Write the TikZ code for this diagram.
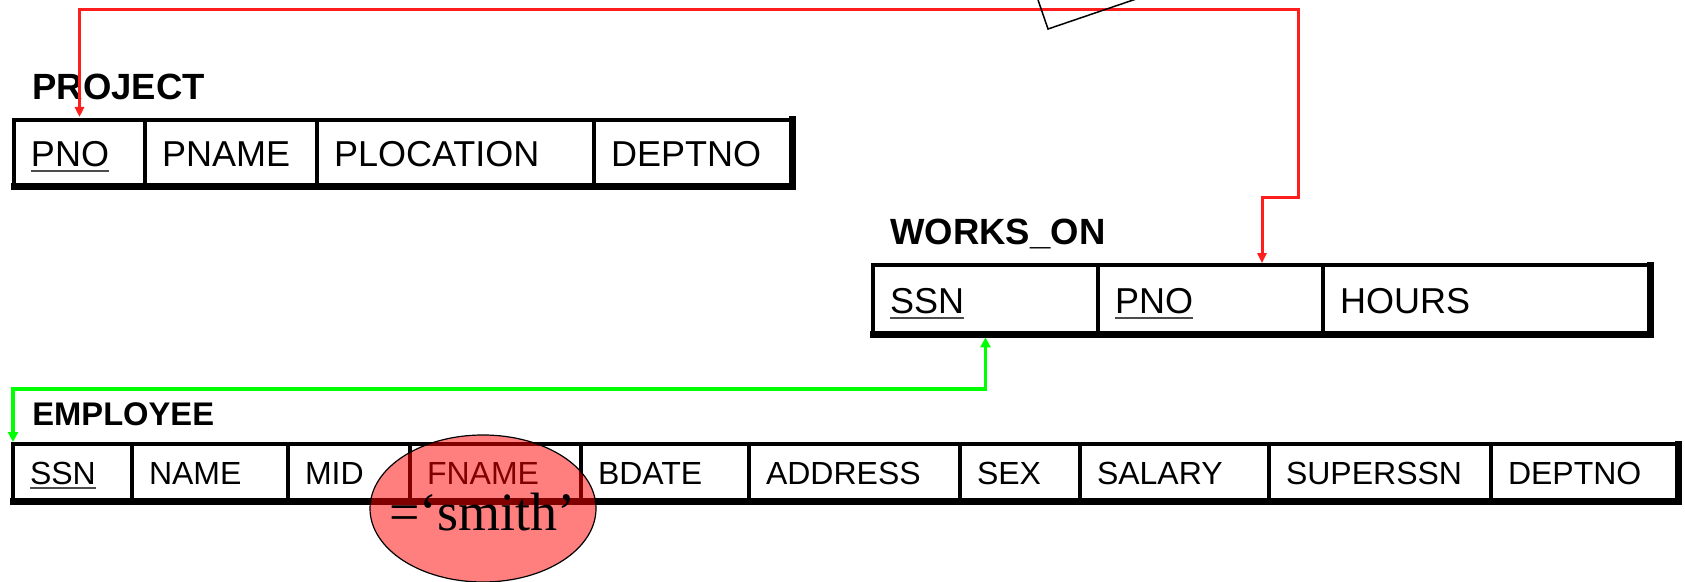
\documentclass[tikz,border=0pt]{standalone}
\usepackage{fontspec}
\setmainfont{Liberation Sans}
\newfontfamily\smithserif{Liberation Serif}
\usetikzlibrary{arrows.meta,shapes.geometric}

% primary-key attribute: text with a rule under it
\newcommand\keyattr[1]{\setbox0\hbox{#1}\rlap{\color{black!70}\rule[-2.7pt]{\wd0}{1pt}}\box0}

% one table cell: name, style, x left, x right, y top, y bottom, text
\newcommand\tcell[7]{%
  \node[#2, text width={(#4-#3)*0.5pt-17pt}, minimum height={(#6-#5)*0.5pt}]
    (#1) at ({(#3+#4)/2},{(#5+#6)/2}) {#7};}

\tikzset{
  cell/.style={draw, line width=1.6pt, outer sep=0pt, inner xsep=8.5pt, inner ysep=0pt,
    align=left, text depth=0pt},
  bigcell/.style={cell, font=\fontsize{18pt}{21pt}\selectfont, text height=12.9pt},
  smallcell/.style={cell, font=\fontsize{16pt}{19pt}\selectfont, text height=11.5pt},
  bigtitle/.style={inner sep=0pt, anchor=base west, font=\bfseries\fontsize{18.25pt}{22pt}\selectfont},
  smalltitle/.style={inner sep=0pt, anchor=base west, font=\bfseries\fontsize{16.35pt}{20pt}\selectfont},
  outerframe/.style={line width=2pt},
  outershade/.style={line width=3.5pt, line cap=rect},
  redlink/.style={draw={rgb,255:red,255;green,30;blue,30}, line width=1.5pt,
    {Triangle[length=5pt,width=4.5pt]}-{Triangle[length=5pt,width=4.5pt]}},
  greenlink/.style={draw={rgb,255:red,0;green,255;blue,0}, line width=1.75pt,
    {Triangle[length=5pt,width=5pt]}-{Triangle[length=5pt,width=5pt]}},
  selection/.style={ellipse, draw, line width=0.6pt, fill=red, fill opacity=0.5,
    draw opacity=1, inner sep=0pt, minimum width=113pt, minimum height=73.5pt},
}

\begin{document}
\begin{tikzpicture}[x=0.5pt, y=-0.5pt]
\useasboundingbox (0,0) rectangle (1685,582);

% ---------- PROJECT ----------
\node[bigtitle] (projtitle) at (32,100) {PROJECT};
\tcell{ppno}{bigcell}{14}{145}{120}{187}{\keyattr{PNO}}
\tcell{ppname}{bigcell}{145}{317}{120}{187}{PNAME}
\tcell{pploc}{bigcell}{317}{594}{120}{187}{PLOCATION}
\tcell{pdept}{bigcell}{594}{792}{120}{187}{DEPTNO}
\draw[outerframe] (ppno.north west) rectangle (pdept.south east);
\draw[outershade] (ppno.south west) -- (pdept.south east) -- (pdept.north east);

% ---------- WORKS_ON ----------
\node[bigtitle] (wotitle) at (890,245) {WORKS\_ON};
\tcell{wssn}{bigcell}{873}{1098}{265.5}{335}{\keyattr{SSN}}
\tcell{wpno}{bigcell}{1098}{1323}{265.5}{335}{\keyattr{PNO}}
\tcell{whours}{bigcell}{1323}{1650}{265.5}{335}{HOURS}
\draw[outerframe] (wssn.north west) rectangle (whours.south east);
\draw[outershade] (wssn.south west) -- (whours.south east) -- (whours.north east);

% ---------- EMPLOYEE ----------
\node[smalltitle] (emptitle) at (32,425) {EMPLOYEE};
\tcell{essn}{smallcell}{13}{132}{444}{501}{\keyattr{SSN}}
\tcell{ename}{smallcell}{132}{288}{444}{501}{NAME}
\tcell{emid}{smallcell}{288}{410}{444}{501}{MID}
\tcell{efname}{smallcell}{410}{581}{444}{501}{FNAME}
\tcell{ebdate}{smallcell}{581}{749}{444}{501}{BDATE}
\tcell{eaddr}{smallcell}{749}{960}{444}{501}{ADDRESS}
\tcell{esex}{smallcell}{960}{1080}{444}{501}{SEX}
\tcell{esal}{smallcell}{1080}{1269}{444}{501}{SALARY}
\tcell{esuper}{smallcell}{1269}{1491}{444}{501}{SUPERSSN}
\tcell{edept}{smallcell}{1491}{1678}{444}{501}{DEPTNO}
\draw[outerframe] (essn.north west) rectangle (edept.south east);
\draw[outershade] (essn.south west) -- (edept.south east) -- (edept.north east);

% ---------- foreign keys ----------
\coordinate (rtop) at (1298,10);
\coordinate (rstep) at (1262,198);
\draw[redlink, shorten <=1.5pt, shorten >=1.2pt]
  (ppno.north) |- (rtop) |- (rstep) -- ([xshift=25.75pt]wpno.north);

\coordinate (gline) at (0,389);
\draw[greenlink, shorten <=1.2pt, shorten >=1pt]
  (wssn.south) -- (wssn.south |- gline) -| (essn.north west);

% corner of a box reaching in from above
\draw[line width=0.75pt] (1037,-3) -- (1048,29) -- (1142,-3);

% ---------- selection condition ----------
\node[selection] (selmark) at (483,508.5) {};
\node[inner sep=0pt, anchor=base, font=\smithserif\fontsize{27pt}{30pt}\selectfont]
  (seltext) at (482.5,530) {=‘smith’};
\end{tikzpicture}
\end{document}
